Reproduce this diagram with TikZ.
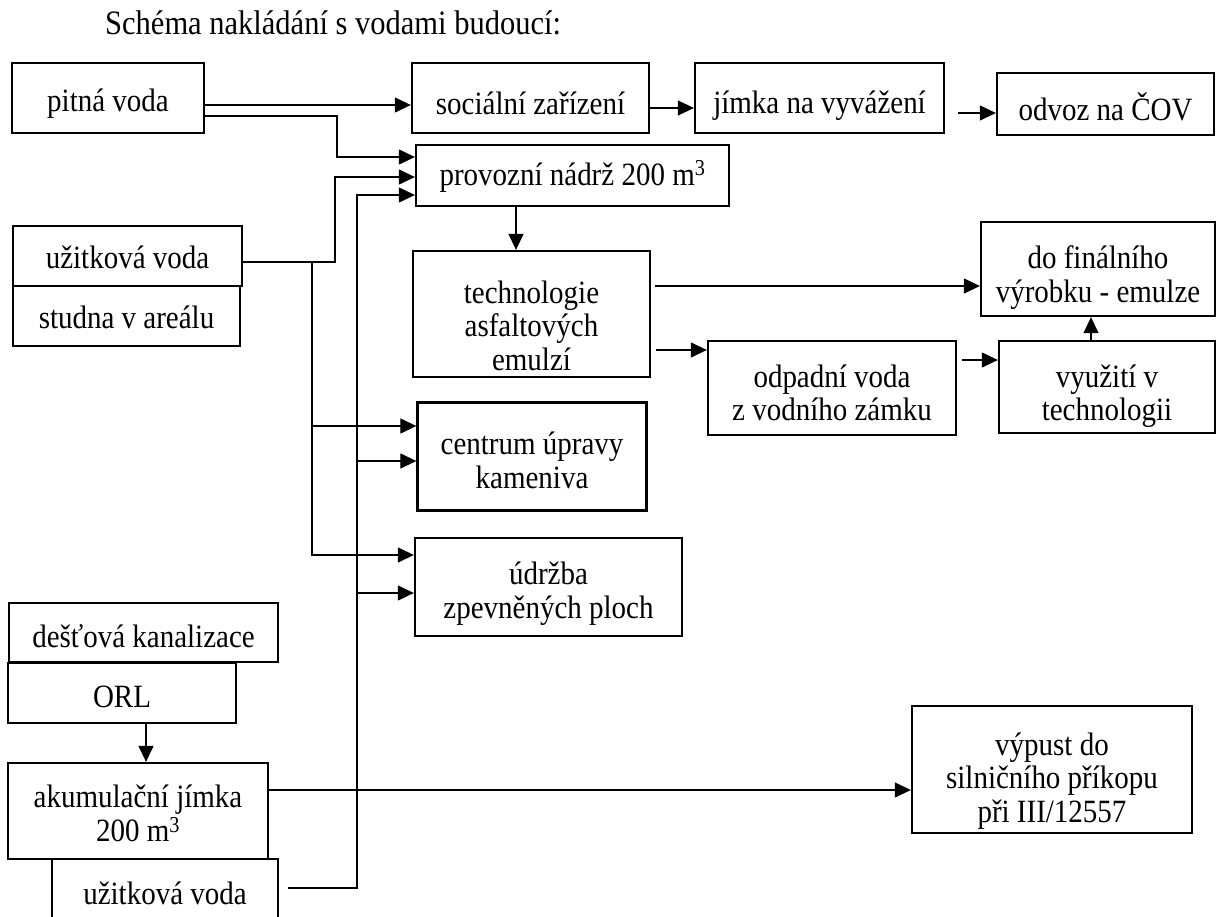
\documentclass[tikz,border=0pt]{standalone}
\usepackage{fontspec}
\setmainfont{Liberation Serif}[FakeStretch=0.892]
\usetikzlibrary{arrows.meta}
% centred lines of a box, lowered by #1 pt inside the frame
\newcommand{\boxlines}[2]{\raisebox{-#1pt}[\height][\depth]{\begin{tabular}{@{}c@{}}#2\end{tabular}}}
\begin{document}
\begin{tikzpicture}[x=1pt,y=-1pt,
  box/.style={draw, line width=2.3pt, inner sep=0pt,
              font=\fontsize{32.5}{33.5}\selectfont},
  arr/.style={-{Triangle[length=16pt,width=15pt]}, line width=1.2pt}]
\clip (0,0) rectangle (1220,916);
\fill[white] (0,0) rectangle (1220,916);

% heading
\node[anchor=base west, inner sep=0pt, font=\fontsize{34.2}{36}\selectfont] (title) at (105,34)
  {Schéma nakládání s vodami budoucí:};

% boxes
\node[box, minimum width=192pt, minimum height=70pt] (pitna) at (108,98) {\boxlines{7}{pitná voda}};
\node[box, minimum width=237pt, minimum height=70pt] (soc) at (530.5,98) {\boxlines{10}{sociální zařízení}};
\node[box, minimum width=249pt, minimum height=70pt] (jimka) at (819.5,98) {\boxlines{9}{jímka na vyvážení}};
\node[box, minimum width=217pt, minimum height=62pt] (odvoz) at (1105.5,104) {\boxlines{8}{odvoz na ČOV}};
\node[box, minimum width=313pt, minimum height=61pt] (provoz) at (572.5,175.5) {\boxlines{2.5}{provozní nádrž 200 m\textsuperscript{3}}};
\node[box, minimum width=229pt, minimum height=60pt] (uzit1) at (127.5,256) {\boxlines{6}{užitková voda}};
\node[box, minimum width=227pt, minimum height=60pt] (studna) at (126.5,316) {\boxlines{6}{studna v areálu}};
\node[box, minimum width=237pt, minimum height=126pt] (techn) at (531.5,314) {\boxlines{16}{technologie\\asfaltových\\emulzí}};
\node[box, minimum width=234pt, minimum height=94pt] (final) at (1098,269) {\boxlines{10}{do finálního\\výrobku - emulze}};
\node[box, minimum width=248pt, minimum height=94pt] (odpad) at (832,388) {\boxlines{9.5}{odpadní voda\\z vodního zámku}};
\node[box, minimum width=216pt, minimum height=92pt] (vyuz) at (1107,387) {\boxlines{10.5}{využití v\\technologii}};
\node[box, minimum width=229pt, minimum height=108pt] (centrum) at (532,456.5) {\boxlines{8.5}{centrum úpravy\\kameniva}};
\node[box, minimum width=267pt, minimum height=98pt] (udrzba) at (548.5,587) {\boxlines{8}{údržba\\zpevněných ploch}};
\node[box, minimum width=269pt, minimum height=59pt] (destova) at (143.5,632.5) {\boxlines{8.5}{dešťová kanalizace}};
\node[box, minimum width=228pt, minimum height=60pt] (orl) at (122,693) {\boxlines{8}{ORL}};
\node[box, minimum width=260pt, minimum height=96pt] (akum) at (138,811) {\boxlines{7}{akumulační jímka\\200 m\textsuperscript{3}}};
\node[box, minimum width=226pt, minimum height=78pt] (uzit2) at (165,898) {\boxlines{0}{užitková voda}};
\node[box, minimum width=280pt, minimum height=127pt] (vypust) at (1052,769.5) {\boxlines{12.5}{výpust do\\silničního příkopu\\při III/12557}};

% drinking water
\coordinate (pa) at ([yshift=-7pt]pitna.east);
\draw[arr] (pa) -- (pa -| soc.west);
\coordinate (pb) at ([yshift=-18pt]pitna.east);
\coordinate (kb) at (337,157);
\draw[arr] (pb) -| (kb) -- (kb -| provoz.west);

% service water from the well
\coordinate (uc) at ([yshift=-6pt]uzit1.east);
\coordinate (kc) at (335,177);
\draw[arr] (uc) -| (kc) -- (kc -| provoz.west);
\coordinate (jd) at (312,262);
\coordinate (kd) at (312,555);
\coordinate (kd2) at (312,426);
\draw[arr] (jd) -- (kd) -- (kd -| udrzba.west);
\draw[arr] (kd2) -- (kd2 -| centrum.west);

% service water from the accumulation tank
\coordinate (ue) at ([xshift=9pt,yshift=10pt]uzit2.east);
\coordinate (ke) at (357,195);
\coordinate (ke2) at (357,461);
\coordinate (ke3) at (357,593);
\draw[arr] (ue) -| (ke) -- (ke -| provoz.west);
\draw[arr] (ke2) -- (ke2 -| centrum.west);
\draw[arr] (ke3) -- (ke3 -| udrzba.west);

% operating tank and technology
\coordinate (kf) at (516,0);
\draw[arr] (provoz.south -| kf) -- (techn.north -| kf);
\coordinate (g1) at ([yshift=-10pt]soc.east);
\draw[arr] (g1) -- (g1 -| jimka.west);
\coordinate (h1) at ([xshift=13pt,yshift=-15pt]jimka.east);
\draw[arr] (h1) -- (h1 -| odvoz.west);
\coordinate (i1) at ([xshift=4pt,yshift=28pt]techn.east);
\draw[arr] (i1) -- (i1 -| final.west);
\coordinate (j1) at ([xshift=5pt,yshift=-36pt]techn.east);
\draw[arr] (j1) -- (j1 -| odpad.west);
\coordinate (k1) at ([xshift=5pt,yshift=28pt]odpad.east);
\draw[arr] (k1) -- (k1 -| vyuz.west);
\coordinate (kl) at (1091,0);
\draw[arr] (vyuz.north -| kl) -- (final.south -| kl);

% rain water
\coordinate (kn) at (146,0);
\draw[arr] (orl.south -| kn) -- (akum.north -| kn);
\coordinate (m1) at ([yshift=21pt]akum.east);
\draw[arr] (m1) -- (m1 -| vypust.west);
\end{tikzpicture}
\end{document}
